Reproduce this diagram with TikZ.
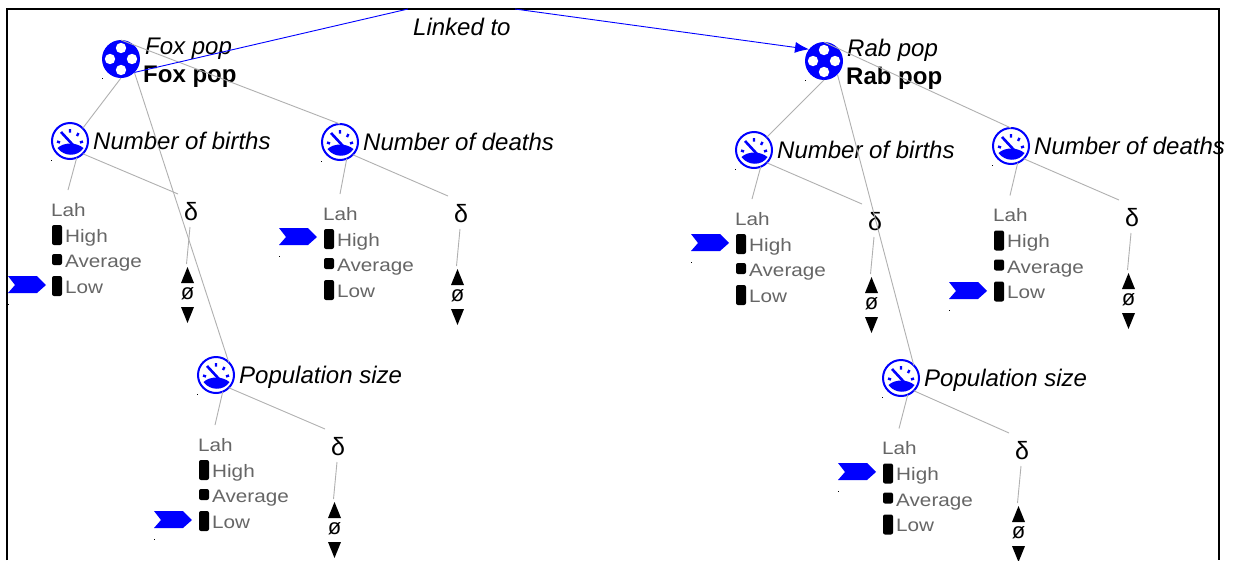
\documentclass[tikz,border=0pt]{standalone}
\usepackage{fontspec}
\setmainfont{Liberation Sans}
\newfontfamily\widefont[FakeStretch=1.15]{Liberation Sans}
\usetikzlibrary{arrows.meta}
\definecolor{conn}{HTML}{B0B0B0}
\definecolor{listtext}{HTML}{666666}
\tikzset{
  x=1pt,y=-1pt,
  conline/.style={draw=conn,line width=0.9pt},
  linkline/.style={draw=blue,line width=0.9pt},
  iconbox/.style={circle,inner sep=0pt,minimum size=38pt,outer sep=0pt},
  varname/.style={anchor=base west,inner sep=0pt,font=\fontsize{24}{26}\selectfont\itshape},
  groupname/.style={anchor=base west,inner sep=0pt,font=\fontsize{24}{26}\selectfont\bfseries},
  listtxt/.style={anchor=base west,inner sep=0pt,text=listtext,font=\widefont\fontsize{18}{20}\selectfont},
  bar/.style={fill=black,rounded corners=2pt},
  speck/.style={fill=black,inner sep=0pt,minimum size=0.8pt},
}
% filled group icon
\newcommand{\groupicon}[3]{%
  \node[iconbox,fill=blue] (#1) at (#2,#3) {};
  \foreach \dx/\dy in {0/-11,0/11,-11/0,11/0}
    \fill[white] (#2+\dx,#3+\dy) circle (5.2);
  \node[speck] (#1s) at (#2-19,#3+19) {};
}
% gauge variable with list and delta
\newcommand{\gaugevar}[8]{%
  \node[iconbox,fill=white,draw=blue,line width=2pt,minimum size=36pt] (#1) at (#2,#3) {};
  \begin{scope}[shift={(#2,#3)}]
    \draw[blue,line width=2.6pt] (-9,-9) -- (3,4);
    \draw[blue,line width=2.4pt] (-13,0.5) -- (-10,1.5) (0,-12) -- (0,-8.5) (8.5,-8) -- (7,-5) (13,0.5) -- (10,1.5);
    \fill[blue] (-12.5,7) .. controls (-6,1) and (6,1) .. (13.5,7) .. controls (8,16) and (-6,16) .. (-12.5,7) -- cycle;
  \end{scope}
  \node[speck] (#1s) at (#2-19,#3+19) {};
  \node[varname] (#1t) at (#2+23,#3+8) {#8};
  \node[listtxt] (#1lah) at (#4,#5+6) {Lah};
  \node[listtxt] (#1hi) at (#4+14,#5+32) {High};
  \node[listtxt] (#1av) at (#4+14,#5+57.5) {Average};
  \node[listtxt] (#1lo) at (#4+14,#5+83) {Low};
  \fill[bar] (#4+1,#5+15) rectangle (#4+11,#5+35);
  \fill[bar] (#4+1,#5+44) rectangle (#4+11,#5+55);
  \fill[bar] (#4+1,#5+66) rectangle (#4+11,#5+86);
  \node[inner sep=0pt] (#1d) at (#6,#7) {\fontsize{25}{26}\selectfont δ};
  \node[inner sep=0pt] (#1o) at (#6-3.5,#7+82) {\fontsize{22}{22}\selectfont ø};
  \fill[black] (#6-10,#7+71) -- (#6-3.5,#7+55) -- (#6+3,#7+71) -- cycle;
  \fill[black] (#6-10,#7+95) -- (#6-3.5,#7+111) -- (#6+3,#7+95) -- cycle;
  \coordinate (#1up) at (#6-4.5,#7+52);
  \coordinate (#1dt) at (#6-1,#7+15);
  \coordinate (#1dl) at (#6-13,#7-18);
  \coordinate (#1lt) at (#4+17,#5-20);
  \path[conline] (#1.-68) -- (#1lt);
  \path[conline] (#1.south east) -- (#1dl);
  \path[conline] (#1dt) -- (#1up);
}
\newcommand{\levelarrow}[3]{%
  \fill[blue] (#2-44,#3-9) -- (#2-15,#3-9) -- (#2-6,#3) -- (#2-15,#3+8) -- (#2-44,#3+8) -- (#2-37,#3) -- cycle;
  \node[speck] (#1) at (#2-44,#3+19) {};
}
\begin{document}
\begin{tikzpicture}
\useasboundingbox (0,0) rectangle (1233,560);
\fill[white] (0,0) rectangle (1233,560);
\draw[black,line width=1.6pt] (7,560) -- (7,9) -- (1219,9) -- (1219,560);

\groupicon{fox}{121}{59}
\groupicon{rab}{824}{61}
\node[varname] (foxt) at (145,54) {Fox pop};
\node[groupname] (foxb) at (143,82) {Fox pop};
\node[varname] (rabt) at (847,56) {Rab pop};
\node[groupname] (rabb) at (846,84) {Rab pop};

\gaugevar{fb}{70}{141}{51}{210}{191}{212}{Number of births}
\gaugevar{fd}{340}{142}{323}{214}{461}{214}{Number of deaths}
\gaugevar{fp}{216}{375}{198}{445}{338}{447}{Population size}
\gaugevar{rb}{754}{150}{735}{219}{875}{222}{Number of births}
\gaugevar{rd}{1011}{146}{993}{215.5}{1132}{218}{Number of deaths}
\gaugevar{rp}{901}{378}{882}{448.5}{1022}{451}{Population size}

\levelarrow{a1}{52}{285}
\levelarrow{a2}{323}{237}
\levelarrow{a3}{735}{243}
\levelarrow{a4}{993}{291}
\levelarrow{a5}{198}{520}
\levelarrow{a6}{882}{472}

\draw[conline] (fox.-90) -- (fb.north east);
\draw[conline] (fox.north) -- (fd.north);
\draw[conline] (fox.south east) -- (fp.north east);
\draw[conline] (rab.-90) -- (rb.north east);
\draw[conline] (rab.north) -- (rd.north);
\draw[conline] (rab.south east) -- (rp.north east);

\node[varname] (link) at (413,35) {Linked to};
\coordinate (l1) at (408,9);
\coordinate (l2) at (515,9);
\draw[linkline] (fox.south east) -- (l1);
\draw[linkline,-{Latex[length=14pt,width=11pt]}] (l2) -- (rab.142);
\end{tikzpicture}
\end{document}
